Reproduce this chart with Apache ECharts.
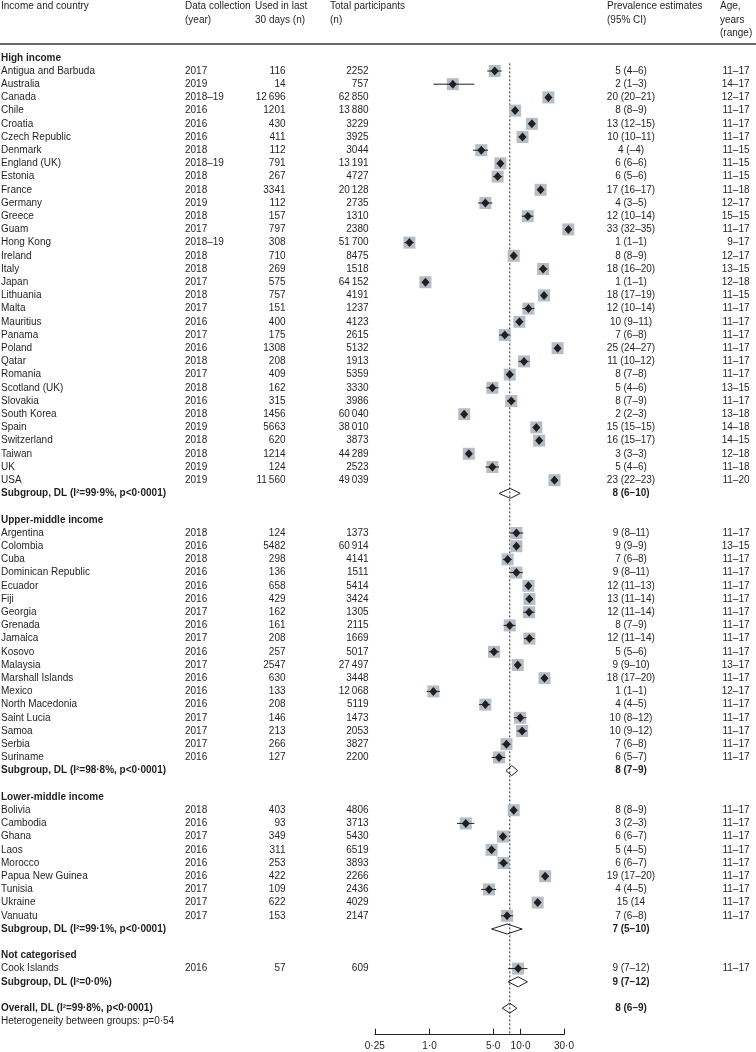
<!DOCTYPE html>
<html>
<head>
<meta charset="utf-8">
<script src="https://cdn.jsdelivr.net/npm/echarts@6/dist/echarts.min.js"></script>
<style>
html,body{margin:0;padding:0;background:#fff;}
#chart{width:756px;height:1052px;}
</style>
</head>
<body>
<div id="chart"></div>
<script>
// ---------------- DATA ----------------
const groupNames = ['High income', 'Upper-middle income', 'Lower-middle income', 'Not categorised'];
const groupSizes = [32, 18, 9, 1];

const countries = [
  'Antigua and Barbuda','Australia','Canada','Chile','Croatia','Czech Republic','Denmark','England (UK)','Estonia','France',
  'Germany','Greece','Guam','Hong Kong','Ireland','Italy','Japan','Lithuania','Malta','Mauritius',
  'Panama','Poland','Qatar','Romania','Scotland (UK)','Slovakia','South Korea','Spain','Switzerland','Taiwan',
  'UK','USA',
  'Argentina','Colombia','Cuba','Dominican Republic','Ecuador','Fiji','Georgia','Grenada','Jamaica','Kosovo',
  'Malaysia','Marshall Islands','Mexico','North Macedonia','Saint Lucia','Samoa','Serbia','Suriname',
  'Bolivia','Cambodia','Ghana','Laos','Morocco','Papua New Guinea','Tunisia','Ukraine','Vanuatu',
  'Cook Islands'
];
const years = [
  '2017','2019','2018–19','2016','2016','2016','2018','2018–19','2018','2018',
  '2019','2018','2017','2018–19','2018','2018','2017','2018','2017','2016',
  '2017','2016','2018','2017','2018','2016','2018','2019','2018','2018',
  '2019','2019',
  '2018','2016','2018','2016','2016','2016','2017','2016','2017','2016',
  '2017','2016','2016','2016','2017','2017','2017','2016',
  '2018','2016','2017','2016','2016','2016','2017','2017','2017',
  '2016'
];
const usedN = [
  116,14,12696,1201,430,411,112,791,267,3341,
  112,157,797,308,710,269,575,757,151,400,
  175,1308,208,409,162,315,1456,5663,620,1214,
  124,11560,
  124,5482,298,136,658,429,162,161,208,257,
  2547,630,133,208,146,213,266,127,
  403,93,349,311,253,422,109,622,153,
  57
];
const totalN = [
  2252,757,62850,13880,3229,3925,3044,13191,4727,20128,
  2735,1310,2380,51700,8475,1518,64152,4191,1237,4123,
  2615,5132,1913,5359,3330,3986,60040,38010,3873,44289,
  2523,49039,
  1373,60914,4141,1511,5414,3424,1305,2115,1669,5017,
  27497,3448,12068,5119,1473,2053,3827,2200,
  4806,3713,5430,6519,3893,2266,2436,4029,2147,
  609
];
const estimate = [
  5.2,1.8,20.2,8.7,13.3,10.5,3.7,6.0,5.6,16.6,
  4.1,12.0,33.5,0.6,8.4,17.7,0.9,18.1,12.2,9.7,
  6.7,25.5,10.9,7.6,4.9,7.9,2.4,14.9,16.0,2.7,
  4.9,23.6,
  9.0,9.0,7.2,9.0,12.2,12.5,12.4,7.6,12.5,5.1,
  9.3,18.3,1.1,4.1,9.9,10.4,7.0,5.8,
  8.4,2.5,6.4,4.8,6.5,18.6,4.5,15.4,7.1,
  9.4
];
const ciLow = [
  4.3,1.1,19.9,8.2,12.2,9.5,3.0,5.6,5.0,16.1,
  3.4,10.3,31.6,0.53,7.8,15.9,0.83,16.9,10.5,8.8,
  5.8,24.3,9.5,6.9,4.2,7.1,2.3,14.5,14.9,2.6,
  4.1,23.2,
  7.6,8.8,6.4,7.6,11.3,11.4,10.7,6.5,10.9,4.5,
  8.9,17.0,0.93,3.5,8.4,9.1,6.2,4.8,
  7.6,2.0,5.8,4.3,5.7,17.1,3.7,14.3,6.1,
  7.3
];
const ciHigh = [
  6.2,3.1,20.5,9.1,14.5,11.5,4.4,6.4,6.3,17.1,
  4.9,13.8,35.4,0.67,9.0,19.8,0.97,19.2,14.2,10.7,
  7.7,26.7,12.3,8.4,5.7,8.8,2.55,15.3,17.2,2.9,
  5.8,23.9,
  10.7,9.2,8.0,10.6,13.1,13.7,14.3,8.8,14.2,5.8,
  9.6,19.6,1.3,4.6,11.6,11.8,7.8,6.8,
  9.2,3.1,7.1,5.3,7.3,20.3,5.4,16.6,8.3,
  11.9
];
const estLabels = [
  '5 (4–6)','2 (1–3)','20 (20–21)','8 (8–9)','13 (12–15)','10 (10–11)','4 (–4)','6 (6–6)','6 (5–6)','17 (16–17)',
  '4 (3–5)','12 (10–14)','33 (32–35)','1 (1–1)','8 (8–9)','18 (16–20)','1 (1–1)','18 (17–19)','12 (10–14)','10 (9–11)',
  '7 (6–8)','25 (24–27)','11 (10–12)','8 (7–8)','5 (4–6)','8 (7–9)','2 (2–3)','15 (15–15)','16 (15–17)','3 (3–3)',
  '5 (4–6)','23 (22–23)',
  '9 (8–11)','9 (9–9)','7 (6–8)','9 (8–11)','12 (11–13)','13 (11–14)','12 (11–14)','8 (7–9)','12 (11–14)','5 (5–6)',
  '9 (9–10)','18 (17–20)','1 (1–1)','4 (4–5)','10 (8–12)','10 (9–12)','7 (6–8)','6 (5–7)',
  '8 (8–9)','3 (2–3)','6 (6–7)','5 (4–5)','6 (6–7)','19 (17–20)','4 (4–5)','15 (14','7 (6–8)',
  '9 (7–12)'
];
const ageRanges = [
  '11–17','14–17','12–17','11–17','11–17','11–17','11–15','11–15','11–15','11–18',
  '12–17','15–15','11–17','9–17','12–17','13–15','12–18','11–15','11–17','11–17',
  '11–17','11–17','11–17','11–17','13–15','11–17','13–18','14–18','14–15','12–18',
  '11–18','11–20',
  '11–17','13–15','11–17','11–17','11–17','11–17','11–17','11–17','11–17','11–17',
  '13–17','11–17','12–17','11–17','11–17','11–17','11–17','11–17',
  '11–17','11–17','11–17','11–17','11–17','11–17','11–17','11–17','11–17',
  '11–17'
];

const subgroupLabels = [
  'Subgroup, DL (I²=99·9%, p<0·0001)',
  'Subgroup, DL (I²=98·8%, p<0·0001)',
  'Subgroup, DL (I²=99·1%, p<0·0001)',
  'Subgroup, DL (I²=0·0%)'
];
const subgroupEst  = [7.7, 8.0, 7.1, 9.4];
const subgroupLow  = [5.8, 6.9, 4.8, 7.3];
const subgroupHigh = [9.9, 9.3, 10.4, 11.9];
const subgroupText = ['8 (6–10)', '8 (7–9)', '7 (5–10)', '9 (7–12)'];

const overallLabel = 'Overall, DL (I²=99·8%, p<0·0001)';
const overallEst = 7.6, overallLow = 6.3, overallHigh = 9.1;
const overallText = '8 (6–9)';
const heterogeneityText = 'Heterogeneity between groups: p=0·54';

const tickValues = [0.25, 1, 5, 10, 30];
const tickLabels = ['0·25', '1·0', '5·0', '10·0', '30·0'];

// ---------------- LAYOUT ----------------
const FONT = '"Liberation Sans", Arial, sans-serif';
const INK = '#231f20';
const COL = {name: 1, year: 185, used: 285.5, total: 368.5, est: 631, age: 749.5, prevHead: 607, ageHead: 720, usedHead: 255, totalHead: 330};

function fmtN(n) {
  const s = String(n);
  return n >= 10000 ? s.slice(0, -3) + '\u2009' + s.slice(-3) : s;
}

const textItems = [];
function addText(x, row, text, align, bold) { textItems.push({x, row, text, align, bold: !!bold}); }

// header
const h1 = -3.88, h2 = -2.88, h3 = -1.88;
addText(COL.name, h1, 'Income and country', 'left');
addText(COL.year, h1, 'Data collection', 'left');
addText(COL.year, h2, '(year)', 'left');
addText(COL.usedHead, h1, 'Used in last', 'left');
addText(COL.usedHead, h2, '30 days (n)', 'left');
addText(COL.totalHead, h1, 'Total participants', 'left');
addText(COL.totalHead, h2, '(n)', 'left');
addText(COL.prevHead, h1, 'Prevalence estimates', 'left');
addText(COL.prevHead, h2, '(95% CI)', 'left');
addText(COL.ageHead, h1, 'Age,', 'left');
addText(COL.ageHead, h2, 'years', 'left');
addText(COL.ageHead, h3, '(range)', 'left');

const countryMarks = [];
const subgroupMarks = [];
let row = 0, idx = 0;
groupNames.forEach((g, gi) => {
  addText(COL.name, row, g, 'left', true);
  for (let k = 0; k < groupSizes[gi]; k++) {
    const r = row + 1 + k;
    addText(COL.name, r, countries[idx], 'left');
    addText(COL.year, r, years[idx], 'left');
    addText(COL.used, r, fmtN(usedN[idx]), 'right');
    addText(COL.total, r, fmtN(totalN[idx]), 'right');
    addText(COL.est, r, estLabels[idx], 'center');
    addText(COL.age, r, ageRanges[idx], 'right');
    countryMarks.push([estimate[idx], ciLow[idx], ciHigh[idx], r]);
    idx++;
  }
  const sr = row + groupSizes[gi] + 1;
  addText(COL.name, sr, subgroupLabels[gi], 'left', true);
  addText(COL.est, sr, subgroupText[gi], 'center', true);
  subgroupMarks.push([subgroupEst[gi], subgroupLow[gi], subgroupHigh[gi], sr]);
  row = sr + 2;
});
const overallRow = row;
addText(COL.name, overallRow, overallLabel, 'left', true);
addText(COL.est, overallRow, overallText, 'center', true);
addText(COL.name, overallRow + 1, heterogeneityText, 'left');
subgroupMarks.push([overallEst, overallLow, overallHigh, overallRow]);
const axisRow = overallRow + 2;

const ROW0 = 57.8, ROWH = 13.2, YMIN = -4;
const gridTop = ROW0 + YMIN * ROWH;
const gridBottom = 1052 - (ROW0 + axisRow * ROWH);

// ---------------- CHART ----------------
const chart = echarts.init(document.getElementById('chart'), null, {renderer: 'canvas'});
const option = {
  backgroundColor: '#ffffff',
  animation: false,
  grid: [
    {left: 0, right: 0, top: gridTop, bottom: gridBottom},
    {left: 374.8, width: 189.2, top: gridTop, bottom: gridBottom}
  ],
  xAxis: [
    {gridIndex: 0, type: 'value', min: 0, max: 756, show: false},
    {
      gridIndex: 1, type: 'log', logBase: 10, position: 'bottom',
      min: tickValues[0], max: tickValues[tickValues.length - 1],
      axisLine: {show: true, onZero: false, lineStyle: {color: INK, width: 1}},
      axisTick: {show: true, inside: true, length: 6, customValues: tickValues, lineStyle: {color: INK, width: 1}},
      axisLabel: {
        customValues: tickValues, margin: 7, color: INK, fontSize: 10, fontFamily: FONT,
        formatter: function (v) {
          let best = 0, bd = Infinity;
          tickValues.forEach((t, i) => { const d = Math.abs(Math.log(t) - Math.log(v)); if (d < bd) { bd = d; best = i; } });
          return tickLabels[best];
        }
      },
      splitLine: {show: false}, minorTick: {show: false}
    }
  ],
  yAxis: [
    {gridIndex: 0, type: 'value', min: YMIN, max: axisRow, inverse: true, show: false},
    {gridIndex: 1, type: 'value', min: YMIN, max: axisRow, inverse: true, show: false}
  ],
  series: [
    { // header rule
      type: 'line', xAxisIndex: 0, yAxisIndex: 0, silent: true, symbol: 'none',
      data: [[0, -1.05], [756, -1.05]],
      lineStyle: {color: '#3a3a3a', width: 1.5}, z: 1
    },
    { // reference line at overall estimate
      type: 'line', xAxisIndex: 1, yAxisIndex: 1, silent: true, symbol: 'none',
      data: [[overallEst, 0.42], [overallEst, axisRow]],
      lineStyle: {color: '#555555', width: 1.3, type: [2, 2]}, z: 1
    },
    { // study markers
      type: 'custom', xAxisIndex: 1, yAxisIndex: 1, silent: true, clip: false, z: 3,
      data: countryMarks,
      renderItem: function (params, api) {
        const r = api.value(3);
        const c = api.coord([api.value(0), r]);
        const lo = api.coord([api.value(1), r]);
        const hi = api.coord([api.value(2), r]);
        return {
          type: 'group',
          children: [
            {type: 'rect', shape: {x: c[0] - 6, y: c[1] - 6, width: 12, height: 12}, style: {fill: '#b5bec6'}},
            {type: 'line', shape: {x1: lo[0], y1: c[1], x2: hi[0], y2: c[1]}, style: {stroke: INK, lineWidth: 1}},
            {type: 'polygon', shape: {points: [[c[0] - 4, c[1]], [c[0], c[1] - 4.5], [c[0] + 4, c[1]], [c[0], c[1] + 4.5]]}, style: {fill: INK}}
          ]
        };
      }
    },
    { // pooled diamonds
      type: 'custom', xAxisIndex: 1, yAxisIndex: 1, silent: true, clip: false, z: 4,
      data: subgroupMarks,
      renderItem: function (params, api) {
        const r = api.value(3);
        const c = api.coord([api.value(0), r]);
        const lo = api.coord([api.value(1), r]);
        const hi = api.coord([api.value(2), r]);
        return {
          type: 'polygon',
          shape: {points: [[lo[0], c[1]], [c[0], c[1] - 5], [hi[0], c[1]], [c[0], c[1] + 5]]},
          style: {fill: 'none', stroke: INK, lineWidth: 1}
        };
      }
    },
    { // all text
      type: 'custom', xAxisIndex: 0, yAxisIndex: 0, silent: true, clip: false, z: 5,
      data: textItems.map(t => [t.x, t.row]),
      renderItem: function (params, api) {
        const t = textItems[params.dataIndex];
        const p = api.coord([t.x, t.row]);
        return {
          type: 'text', x: p[0], y: p[1],
          style: {
            text: t.text, fill: INK, align: t.align, verticalAlign: 'middle',
            font: (t.bold ? 'bold ' : '') + '10px ' + FONT
          }
        };
      }
    }
  ]
};
chart.setOption(option);
</script>
</body>
</html>
